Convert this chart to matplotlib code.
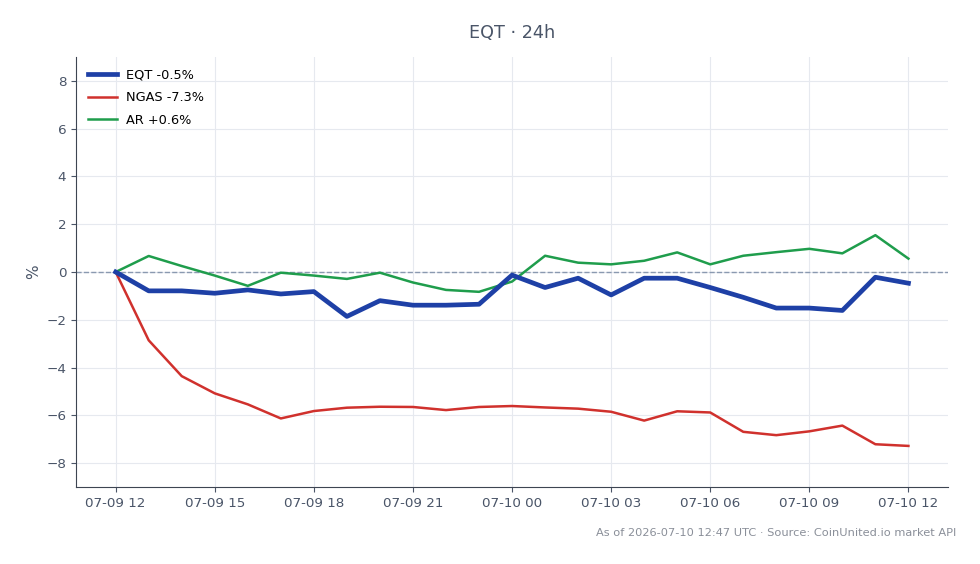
import numpy as np
import pandas as pd
import matplotlib
matplotlib.use("Agg")
import matplotlib.pyplot as plt
import matplotlib.dates as mdates

# hourly % change, 24h window
times = pd.date_range("2026-07-09 12:00", "2026-07-10 12:00", freq="h")
eqt = [0.0, -0.79, -0.79, -0.89, -0.75, -0.92, -0.82, -1.86, -1.2, -1.39, -1.39, -1.35,
       -0.13, -0.65, -0.26, -0.96, -0.26, -0.26, -0.65, -1.06, -1.51, -1.51, -1.61, -0.22, -0.47]
ngas = [0.0, -2.86, -4.36, -5.08, -5.54, -6.13, -5.82, -5.68, -5.64, -5.65, -5.78, -5.65,
        -5.61, -5.67, -5.72, -5.85, -6.22, -5.83, -5.88, -6.69, -6.83, -6.67, -6.43, -7.21, -7.28]
ar = [0.0, 0.67, 0.25, -0.15, -0.58, -0.03, -0.15, -0.29, -0.03, -0.44, -0.75, -0.83,
      -0.4, 0.68, 0.39, 0.32, 0.47, 0.82, 0.32, 0.68, 0.83, 0.97, 0.78, 1.54, 0.56]

text_col = "#4a5568"

fig = plt.figure(figsize=(9.8, 5.64), dpi=100)
ax = fig.add_axes([0.0776, 0.1365, 0.8898, 0.7625])

ax.plot(times, eqt, color="#1e40a6", lw=3.4, label="EQT -0.5%", zorder=4)
ax.plot(times, ngas, color="#d0312d", lw=1.8, label="NGAS -7.3%", zorder=3)
ax.plot(times, ar, color="#1f9d4c", lw=1.8, label="AR +0.6%", zorder=3)
ax.axhline(0, color="#8a99b0", lw=1, ls="--", zorder=2)

ax.set_ylim(-9, 9)
ax.set_yticks([-8, -6, -4, -2, 0, 2, 4, 6, 8])
ax.yaxis.set_major_formatter(plt.FuncFormatter(lambda v, p: f"{v:.0f}".replace("-", "\u2212")))
ax.xaxis.set_major_locator(mdates.HourLocator(byhour=range(0, 24, 3)))
ax.xaxis.set_major_formatter(mdates.DateFormatter("%m-%d %H"))
ax.margins(x=0.05)

ax.grid(True, color="#e6e9ef", lw=0.8)
ax.set_axisbelow(True)
for s in ["top", "right"]:
    ax.spines[s].set_visible(False)
for s in ["left", "bottom"]:
    ax.spines[s].set_color("#3d4552")
ax.tick_params(colors=text_col, labelsize=9.7)
ax.set_ylabel("%", color=text_col, fontsize=11)

ax.legend(loc="upper left", frameon=False, fontsize=9.3, borderaxespad=0.5,
          handlelength=2.3, handletextpad=0.65, labelspacing=0.75)
ax.set_title("EQT · 24h", color=text_col, fontsize=12.7, pad=14)
fig.text(0.976, 0.055, "As of 2026-07-10 12:47 UTC · Source: CoinUnited.io market API",
         ha="right", va="center", color="#8a8f99", fontsize=8.2)

fig.savefig("out.png", dpi=100)
